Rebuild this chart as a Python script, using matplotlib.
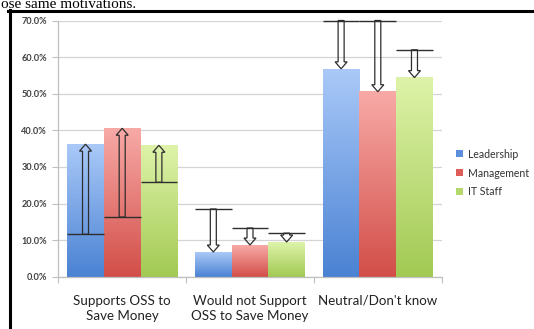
import numpy as np
import matplotlib
matplotlib.use("Agg")
import matplotlib.pyplot as plt
from matplotlib.colors import LinearSegmentedColormap
from matplotlib.patches import FancyArrow, Patch
from matplotlib.lines import Line2D

# ---- data -------------------------------------------------------------
categories = ["Supports OSS to\nSave Money",
              "Would not Support\nOSS to Save Money",
              "Neutral/Don't know"]
series = ["Leadership", "Management", "IT Staff"]

leadership = [0.362, 0.0675, 0.568]
management = [0.4055, 0.0866, 0.5055]
it_staff = [0.359, 0.0948, 0.544]

# earlier survey values: arrows run from these to the current bars
leadership_prev = [0.116, 0.185, 0.70]
management_prev = [0.163, 0.133, 0.70]
it_staff_prev = [0.258, 0.119, 0.620]

yticks = [0.0, 0.1, 0.2, 0.3, 0.4, 0.5, 0.6, 0.7]
ytick_labels = ["0.0%", "10.0%", "20.0%", "30.0%", "40.0%", "50.0%", "60.0%", "70.0%"]

# ---- style ------------------------------------------------------------
grad_colors = {
    "Leadership": ("#aac9f8", "#4a82d3"),
    "Management": ("#f8aaa7", "#d24e48"),
    "IT Staff": ("#def3a9", "#a2c953"),
}
legend_colors = {"Leadership": "#5b8fdb", "Management": "#de5d57", "IT Staff": "#b4d86b"}
FONT = "Lato"

W, H = 534, 329
fig = plt.figure(figsize=(W / 100, H / 100), dpi=100)
fig.patch.set_facecolor("white")

ax_l, ax_r, ax_b, ax_t = 58.3, 441.7, 276.7, 20.5
ax = fig.add_axes([ax_l / W, 1 - ax_b / H, (ax_r - ax_l) / W, (ax_b - ax_t) / H])
ax.set_facecolor("white")

x = np.arange(len(categories))
bw = 0.287
values = [leadership, management, it_staff]
prevs = [leadership_prev, management_prev, it_staff_prev]

shaft_w = 0.047
head_w = 0.094
head_l = 0.019
arrow_col = "#2e2e2e"

for i, (name, vals, prev) in enumerate(zip(series, values, prevs)):
    pos = x + (i - 1) * bw
    bars = ax.bar(pos, vals, width=bw, color="none", edgecolor="none", zorder=2)
    top_c, bot_c = grad_colors[name]
    cmap = LinearSegmentedColormap.from_list(name, [bot_c, top_c])
    grad = np.linspace(0, 1, 256).reshape(-1, 1)
    for b in bars:
        x0, y0 = b.get_x(), b.get_y()
        ax.imshow(grad, cmap=cmap, origin="lower", aspect="auto",
                  extent=(x0, x0 + b.get_width(), y0, y0 + b.get_height()),
                  zorder=2, interpolation="bicubic")
    for xc, v, p in zip(pos, vals, prev):
        # previous value marker
        ax.plot([xc - bw / 2, xc + bw / 2], [p, p], color=arrow_col, lw=1.0,
                zorder=4, solid_capstyle="butt", clip_on=False)
        # hollow block arrow to the current value
        arr = FancyArrow(xc, p, 0, v - p, width=shaft_w, head_width=head_w,
                         head_length=head_l, length_includes_head=True,
                         facecolor="none", edgecolor=arrow_col, lw=0.9,
                         zorder=4, clip_on=False)
        ax.add_patch(arr)

ax.set_xlim(-0.5, len(categories) - 0.5)
ax.set_ylim(0, 0.7)

# grid and axes
ax.set_yticks(yticks)
ax.set_yticklabels(ytick_labels, fontfamily=FONT, fontsize=6.6, color="#404040",
                   fontweight="bold")
ax.yaxis.grid(True, color="#d4d4d4", lw=0.9, zorder=0)
ax.set_axisbelow(True)
ax.tick_params(axis="y", length=4, color="#bfbfbf", width=0.8, pad=4)

ax.set_xticks(x)
ax.set_xticklabels(categories, fontfamily=FONT, fontsize=9.6, color="#222222",
                   linespacing=1.3)
ax.tick_params(axis="x", length=0, pad=13)
ax.set_xticks(np.arange(len(categories) + 1) - 0.5, minor=True)
ax.tick_params(axis="x", which="minor", length=4, color="#bfbfbf", width=0.8)

for s in ["top", "right"]:
    ax.spines[s].set_visible(False)
for s in ["left", "bottom"]:
    ax.spines[s].set_color("#bfbfbf")
    ax.spines[s].set_linewidth(0.9)

# legend
handles = [Patch(facecolor=legend_colors[n], edgecolor="none", label=n) for n in series]
fig.legend(handles=handles, loc="center left",
           bbox_to_anchor=(451 / W, 1 - 173 / H), frameon=False,
           prop={"family": FONT, "size": 7.6},
           handlelength=0.65, handleheight=0.65, handletextpad=0.45,
           labelspacing=0.75, borderpad=0, labelcolor="#333333")

# page frame around the chart
fig.add_artist(Line2D([8 / W, 1.0], [1 - 11.3 / H, 1 - 11.3 / H],
                      transform=fig.transFigure, color="black", lw=2.2))
fig.add_artist(Line2D([9.5 / W, 9.5 / W], [0, 1 - 10 / H],
                      transform=fig.transFigure, color="black", lw=2.2))

# running document text above the chart
fig.text(1 / W, 1 - 8.5 / H, "ose same motivations.", fontfamily="Liberation Serif",
         fontsize=11, color="black", ha="left", va="baseline")

fig.savefig("out.png", dpi=100, facecolor="white")
